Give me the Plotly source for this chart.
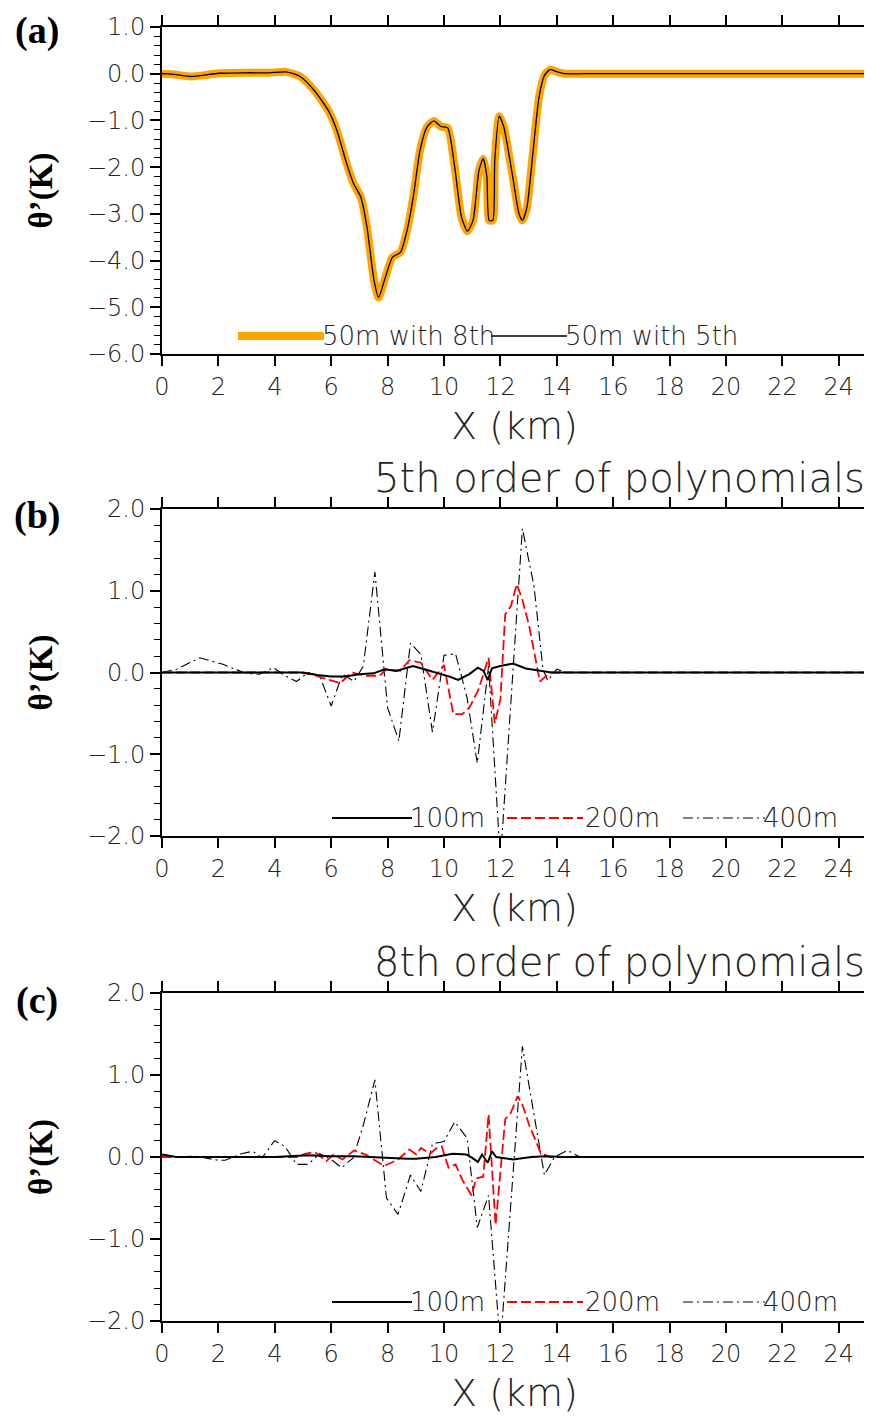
import plotly.graph_objects as go

# ---------------- data ----------------
# panel (a): 50 m resolution, 8th vs 5th order polynomials
x_a = [0, 0.5, 1.0, 1.5, 2.0, 3.0, 3.8, 4.4, 4.9, 5.4, 5.9, 6.2, 6.55, 6.8, 7.05, 7.27,
       7.52, 7.68, 7.92, 8.17, 8.46, 8.66, 8.91, 9.15, 9.4, 9.64, 9.89, 10.13, 10.38,
       10.62, 10.83, 11.03, 11.24, 11.39, 11.52, 11.6, 11.73, 11.8, 11.96, 12.12, 12.42,
       12.66, 12.78, 12.94, 13.15, 13.37, 13.56, 13.76, 14.02, 14.3, 15, 20, 25]
theta_50m_8th = [0, -0.02, -0.06, -0.03, 0.01, 0.02, 0.02, 0.04, -0.06, -0.36, -0.79, -1.21,
                 -1.93, -2.36, -2.64, -3.29, -4.43, -4.79, -4.36, -3.93, -3.82, -3.43, -2.64,
                 -1.64, -1.14, -1.01, -1.13, -1.16, -2.0, -3.07, -3.37, -3.14, -2.07, -1.82,
                 -2.21, -3.14, -3.14, -1.86, -0.91, -1.14, -2.14, -3.0, -3.14, -2.86, -1.71,
                 -0.5, -0.04, 0.09, 0.04, 0.0, 0, 0, 0]
theta_50m_5th = [0, -0.02, -0.06, -0.03, 0.01, 0.02, 0.02, 0.04, -0.06, -0.36, -0.79, -1.21,
                 -1.93, -2.36, -2.64, -3.29, -4.43, -4.79, -4.36, -3.93, -3.82, -3.43, -2.64,
                 -1.64, -1.14, -1.01, -1.13, -1.16, -2.0, -3.07, -3.37, -3.14, -2.07, -1.82,
                 -2.21, -3.14, -3.14, -1.86, -0.91, -1.14, -2.14, -3.0, -3.14, -2.86, -1.71,
                 -0.5, -0.04, 0.09, 0.04, 0.0, 0, 0, 0]

# panel (b): 5th order of polynomials
x_b100 = [0, 5.0, 5.5, 6.0, 6.5, 7.0, 7.5, 7.9, 8.3, 8.9, 9.3, 9.8, 10.2, 10.5, 10.9, 11.2,
          11.4, 11.55, 11.7, 12.0, 12.45, 12.9, 13.3, 13.8, 14.2, 25]
b_100m = [0, 0, -0.03, -0.05, -0.05, -0.02, -0.01, 0.04, 0.02, 0.08, 0.04, -0.01, -0.05,
          -0.09, -0.02, 0.06, 0.02, -0.09, 0.05, 0.08, 0.11, 0.05, 0.03, 0.0, 0, 0]
x_b200 = [0, 4.8, 5.26, 5.75, 6.32, 6.73, 7.22, 7.71, 7.96, 8.45, 8.77, 9.18, 9.59, 10.0,
          10.33, 10.65, 10.9, 11.22, 11.58, 11.8, 12.0, 12.17, 12.37, 12.58, 12.78, 13.02,
          13.4, 13.76, 25]
b_200m = [0, 0, -0.02, -0.07, -0.13, 0, -0.04, -0.04, 0.04, 0.02, 0.15, 0.12, -0.09, 0.09,
          -0.51, -0.51, -0.43, -0.21, 0.18, -0.62, -0.33, 0.71, 0.81, 1.08, 0.89, 0.57,
          -0.11, 0, 0]
x_b400 = [0, 0.52, 1.34, 2.16, 2.97, 3.46, 3.95, 4.36, 4.77, 5.18, 5.59, 6.0, 6.4, 6.81,
          7.14, 7.55, 8.0, 8.4, 8.81, 9.18, 9.59, 10.0, 10.41, 10.82, 11.18, 11.58, 12.0,
          12.78, 13.19, 13.51, 13.68, 14.0, 14.33, 25]
b_400m = [0, 0.04, 0.18, 0.1, -0.01, -0.02, 0.06, -0.04, -0.11, 0, -0.04, -0.41, -0.02,
          -0.11, 0.08, 1.23, -0.43, -0.84, 0.36, 0.22, -0.73, 0.21, 0.23, -0.31, -1.11,
          0.08, -2.3, 1.76, 1.06, 0.04, -0.1, 0.04, 0, 0]

# panel (c): 8th order of polynomials
x_c100 = [0, 0.5, 2, 4, 5.2, 6.0, 6.8, 7.9, 8.7, 9.0, 9.7, 10.3, 10.8, 11.0, 11.2, 11.35,
          11.55, 11.7, 11.85, 12.45, 13.1, 13.6, 14.3, 25]
c_100m = [0.03, 0, 0, 0, 0.02, 0.01, 0.01, -0.01, -0.02, -0.02, 0.0, 0.04, 0.03, -0.01,
          -0.06, 0.03, -0.07, 0.07, 0.0, -0.03, 0.0, 0.01, 0, 0]
x_c200 = [0, 4.77, 5.1, 5.42, 5.83, 6.08, 6.4, 6.81, 7.22, 7.88, 8.37, 8.77, 9.02, 9.18,
          9.51, 9.74, 9.92, 10.16, 10.41, 10.65, 10.98, 11.14, 11.39, 11.58, 11.83, 12.04,
          12.17, 12.37, 12.61, 12.78, 13.02, 13.43, 13.76, 25]
c_200m = [0, 0, 0.04, 0.06, -0.05, 0.03, -0.03, 0.08, 0.03, -0.11, -0.03, 0.09, 0.03, 0.11,
          0.04, 0.11, 0.13, -0.13, -0.09, -0.28, -0.47, -0.26, -0.24, 0.52, -0.83, -0.05,
          0.46, 0.54, 0.74, 0.64, 0.39, 0.05, 0, 0]
x_c400 = [0, 0.52, 1.18, 1.99, 2.24, 2.81, 3.22, 3.55, 3.99, 4.36, 4.77, 5.18, 5.59, 6.0,
          6.37, 6.78, 7.14, 7.55, 7.96, 8.37, 8.81, 9.18, 9.59, 10.0, 10.38, 10.82, 11.18,
          11.58, 12.0, 12.78, 13.19, 13.56, 13.92, 14.38, 14.82, 25]
c_400m = [0.03, 0, 0.01, -0.04, -0.04, 0.04, 0.07, -0.01, 0.2, 0.13, -0.09, -0.09, 0.04,
          -0.03, -0.13, -0.01, 0.39, 0.94, -0.5, -0.7, -0.22, -0.42, 0.16, 0.19, 0.43, 0.23,
          -0.86, -0.47, -2.3, 1.35, 0.52, -0.22, 0, 0.08, 0, 0]

panel_labels = ["(a)", "(b)", "(c)"]
panel_titles = ["", "5th order of polynomials", "8th order of polynomials"]
legend_a = ["50m with 8th", "50m with 5th"]
legend_bc = ["100m", "200m", "400m"]

# ---------------- styling ----------------
SANS = "DejaVu Sans"
SERIF = "Liberation Serif"
TXT = "#222222"
ORANGE = "#FFA500"
RED = "#FF0000"
DASH = "10px,4px"
DASHDOT = "10px,4px,2px,4px"

fig = go.Figure()

def line(x, y, ax, color, width, dash="solid", shape="linear"):
    fig.add_trace(go.Scatter(
        x=x, y=y, xaxis="x" + ax, yaxis="y" + ax, mode="lines", showlegend=False,
        line=dict(color=color, width=width, dash=dash, shape=shape, smoothing=0.6)))

line(x_a, theta_50m_8th, "", ORANGE, 8, shape="spline")
line(x_a, theta_50m_5th, "", "black", 1.3, shape="spline")

line(x_b400, b_400m, "2", "black", 1.1, DASHDOT)
line(x_b200, b_200m, "2", RED, 1.8, DASH)
line(x_b100, b_100m, "2", "black", 2.0)

line(x_c400, c_400m, "3", "black", 1.1, DASHDOT)
line(x_c200, c_200m, "3", RED, 1.8, DASH)
line(x_c100, c_100m, "3", "black", 2.0)

# page geometry: the html body adds an 8px margin, so the figure is 8px smaller
OFF = 8
W, H = 872 - OFF, 1426 - OFF
# plot-area edges in page pixels
PL, PR = 162, 867
PT, PB = 27, 1321
L = PL - OFF
R = W - (PR - OFF)
T = PT - OFF
B = H - (PB - OFF)
PH = H - T - B
PW = W - L - R

def ydom(top, bot):
    return [(PB - bot) / PH, (PB - top) / PH]

doms = [ydom(27, 354), ydom(509, 836), ydom(993, 1321)]
yranges = [[-6, 1], [-2, 2], [-2, 2]]

tickfont = dict(family=SANS, size=24, color=TXT, weight=200)

layout = dict(width=W, height=H, margin=dict(l=L, r=R, t=T, b=B, autoexpand=False),
              paper_bgcolor="white", plot_bgcolor="white", showlegend=False)

for i, suffix in enumerate(["", "2", "3"]):
    layout["xaxis" + suffix] = dict(
        domain=[0, 1], anchor="y" + suffix, range=[0, 25], tick0=0, dtick=2,
        ticks="outside", ticklen=10, tickwidth=1.5, tickcolor="black",
        showline=True, linecolor="black", linewidth=2, mirror="ticks",
        showgrid=False, zeroline=False, tickfont=tickfont, ticklabelstandoff=0,
        automargin=False,
        title=dict(text="X (km)", font=dict(family=SANS, size=38, color=TXT, weight=200),
                   standoff=13))
    layout["yaxis" + suffix] = dict(
        domain=doms[i], anchor="x" + suffix, range=yranges[i], tick0=0, dtick=1,
        tickformat=".1f", ticks="outside", ticklen=10, tickwidth=1.5, tickcolor="black",
        minor=dict(ticks="outside", ticklen=6, tickwidth=1, tickcolor="black", dtick=0.2),
        showline=True, linecolor="black", linewidth=2, mirror="ticks",
        showgrid=False, zeroline=False, tickfont=tickfont, automargin=False,
        title=dict(text="<b>θ’(K)</b>", font=dict(family=SERIF, size=33, color="black"),
                   standoff=24))

fig.update_layout(**layout)

annotations = []
shapes = []


def fx(px):
    return (px - PL) / PW


label_y = [30, 515, 1000]
for i, suffix in enumerate(["", "2", "3"]):
    annotations.append(dict(
        text="<b>%s</b>" % panel_labels[i], xref="paper", yref="paper",
        x=fx(37), y=(PB - label_y[i]) / PH,
        xanchor="center", yanchor="middle", showarrow=False,
        font=dict(family=SERIF, size=38, color="black")))
    if panel_titles[i]:
        annotations.append(dict(
            text=panel_titles[i], xref="x%s domain" % suffix, yref="y%s domain" % suffix,
            x=1, y=1, xanchor="right", yanchor="bottom", yshift=6, showarrow=False,
            font=dict(family=SANS, size=40, color=TXT, weight=200)))


def seg(suffix, x0, x1, y, color, width, dash="solid"):
    shapes.append(dict(type="line", xref="x%s domain" % suffix, yref="y%s domain" % suffix,
                       x0=x0, x1=x1, y0=y, y1=y, layer="above",
                       line=dict(color=color, width=width, dash=dash)))


def txt(suffix, x, y, s):
    annotations.append(dict(text=s, xref="x%s domain" % suffix, yref="y%s domain" % suffix,
                            x=x, y=y, xanchor="left", yanchor="middle", showarrow=False,
                            font=dict(family=SANS, size=26, color=TXT, weight=200)))


# legend (a)
ya = (354 - 336) / 327
seg("", fx(238), fx(324), ya, ORANGE, 8)
txt("", fx(320), ya, legend_a[0])
seg("", fx(491), fx(567), ya, "black", 1.3)
txt("", fx(563), ya, legend_a[1])

# legends (b), (c)
for suffix, yb in [("2", (836 - 818) / 327), ("3", (1321 - 1302) / 328)]:
    seg(suffix, fx(332), fx(412), yb, "black", 2)
    txt(suffix, fx(408), yb, legend_bc[0])
    seg(suffix, fx(507), fx(583), yb, RED, 1.8, DASH)
    txt(suffix, fx(583), yb, legend_bc[1])
    seg(suffix, fx(683), fx(765), yb, "black", 1.1, DASHDOT)
    txt(suffix, fx(761), yb, legend_bc[2])

fig.update_layout(annotations=annotations, shapes=shapes)
fig.write_html("out.html")
